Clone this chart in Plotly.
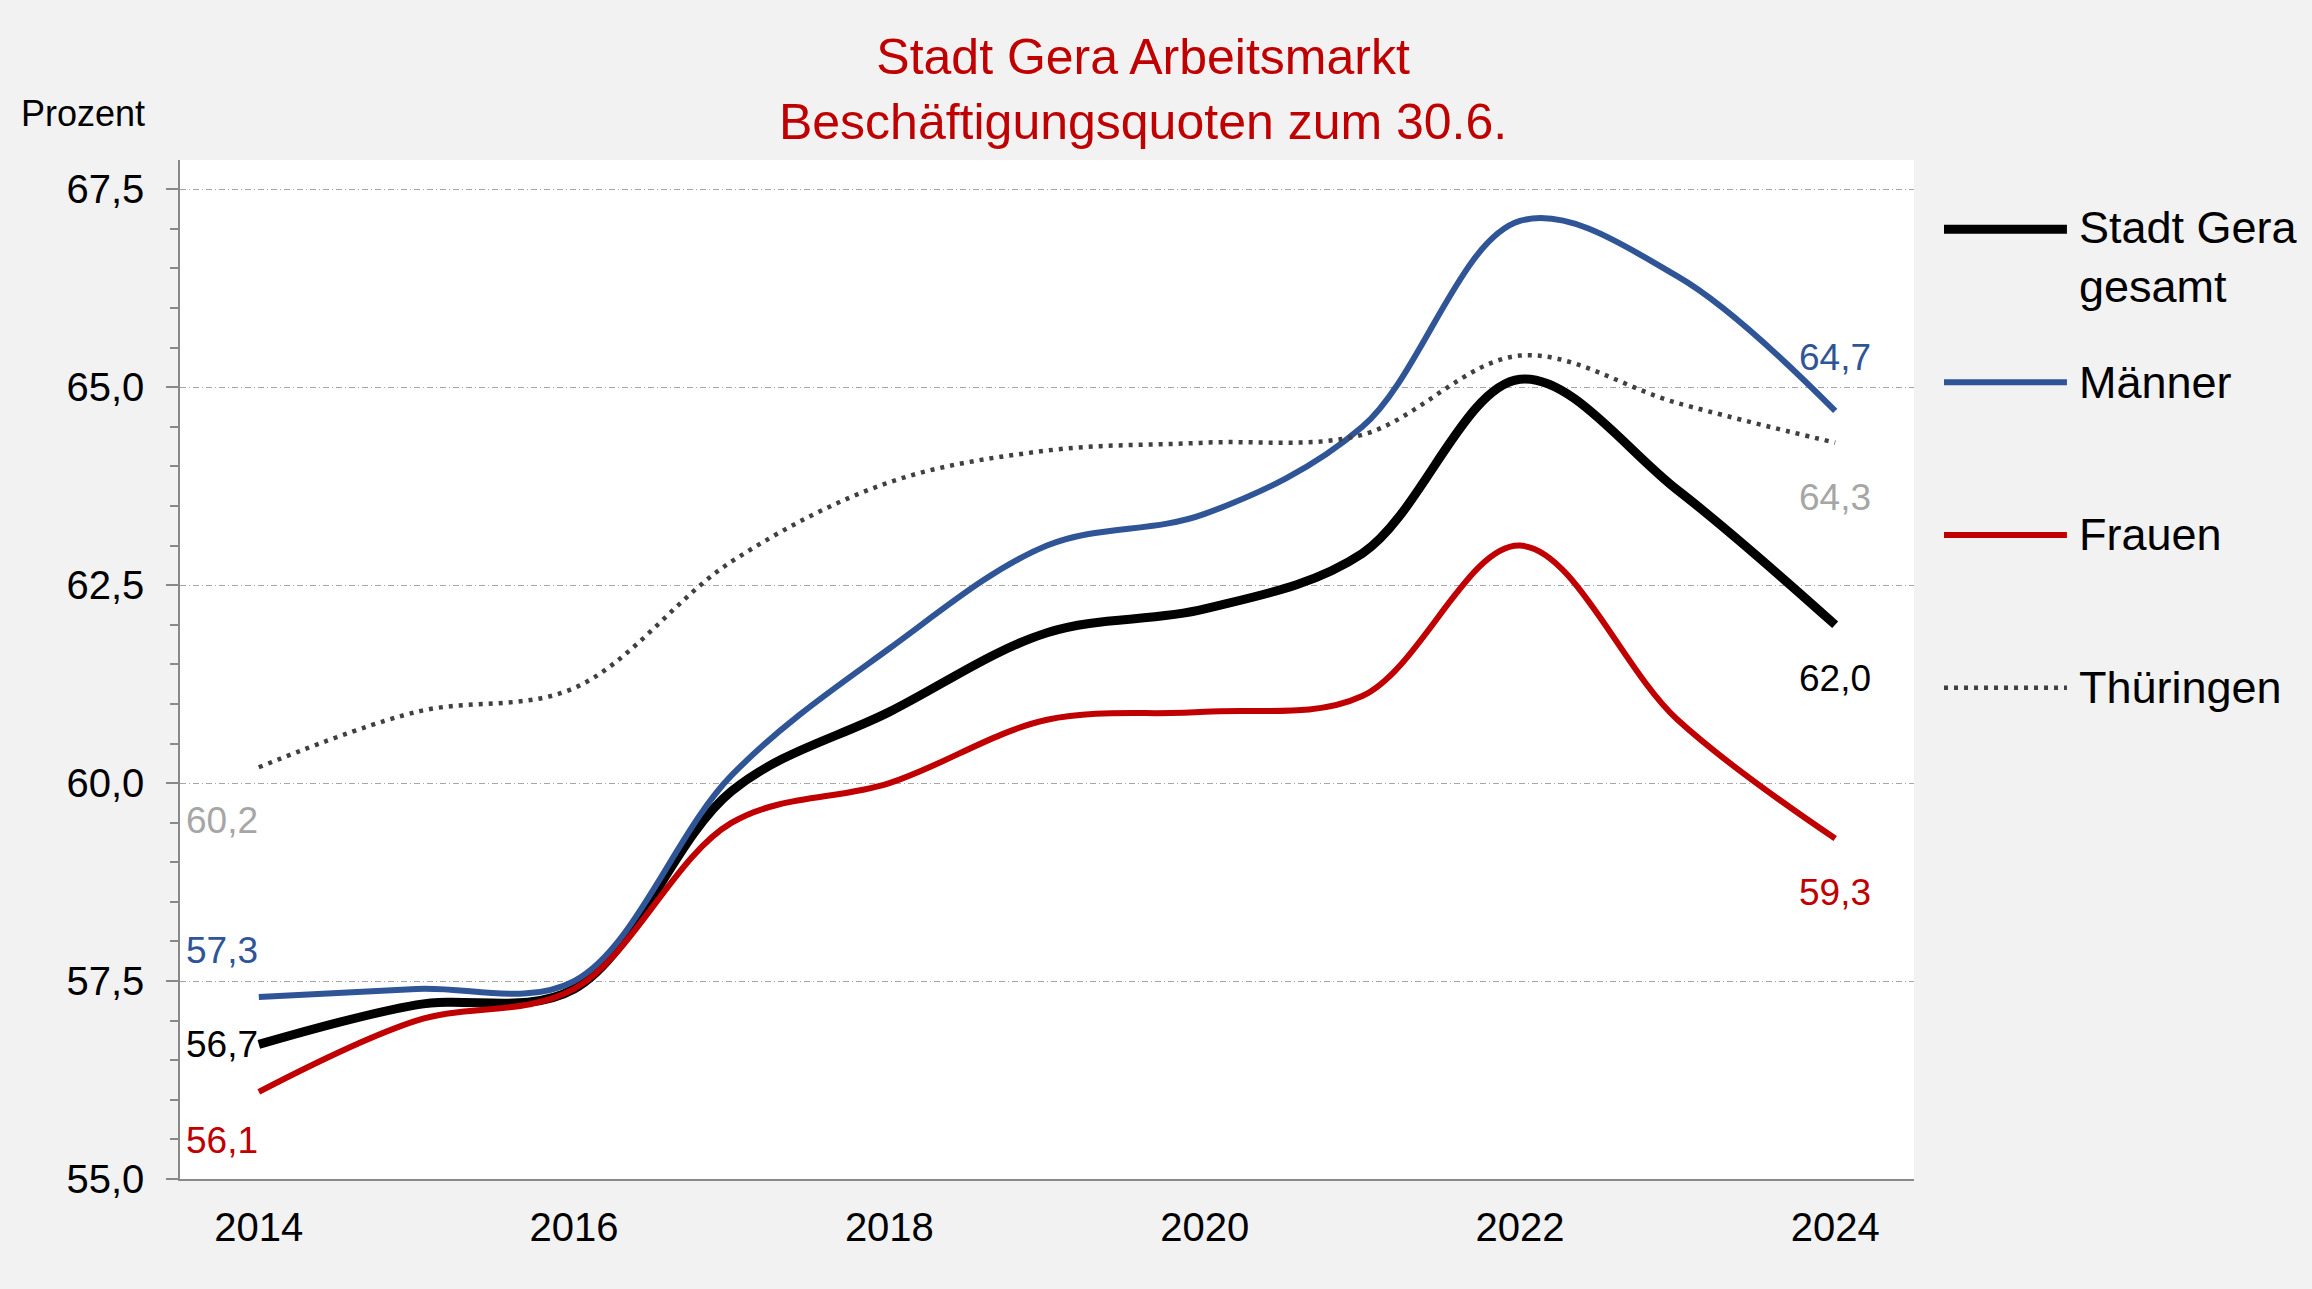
import plotly.graph_objects as go

# Beschäftigungsquoten zum 30.6. (Prozent)
years = [2014, 2015, 2016, 2017, 2018, 2019, 2020, 2021, 2022, 2023, 2024]
gera_gesamt = [56.7, 57.2, 57.4, 59.9, 60.9, 61.9, 62.2, 62.9, 65.1, 63.7, 62.0]
maenner = [57.3, 57.4, 57.5, 60.1, 61.7, 63.0, 63.4, 64.5, 67.1, 66.4, 64.7]
frauen = [56.1, 57.0, 57.4, 59.5, 60.0, 60.8, 60.9, 61.1, 63.0, 60.8, 59.3]
thueringen = [60.2, 60.9, 61.2, 62.8, 63.8, 64.2, 64.3, 64.4, 65.4, 64.8, 64.3]

names = ["Stadt Gera<br>gesamt", "Männer", "Frauen", "Thüringen"]
series = [gera_gesamt, maenner, frauen, thueringen]

FONT = "Arial, Liberation Sans, sans-serif"
line_colors = ["#000000", "#2F5597", "#C00000", "#404040"]
label_colors = ["#000000", "#2F5597", "#C00000", "#A6A6A6"]
widths = [9, 6, 6, 4.5]
dashes = ["solid", "solid", "solid", "4px,6px"]

# label offsets in px (first point, last point)
first_shift = [0, -46, 49, 53]
last_shift = [54, -53, 54, 55]


def fmt(v):
    return f"{v:.1f}".replace(".", ",")


fig = go.Figure()
for name, ys, col, w, d in zip(names, series, line_colors, widths, dashes):
    fig.add_trace(go.Scatter(
        x=years, y=ys, name=name, mode="lines",
        line=dict(color=col, width=w, dash=d, shape="spline", smoothing=1.0),
        showlegend=False,
    ))

# end labels
for ys, col, s0, s1 in zip(series, label_colors, first_shift, last_shift):
    fig.add_annotation(x=years[0], y=ys[0], text=fmt(ys[0]), showarrow=False,
                       xanchor="right", yanchor="middle", xshift=1, yshift=-s0,
                       font=dict(family=FONT, size=37, color=col))
    fig.add_annotation(x=years[-1], y=ys[-1], text=fmt(ys[-1]), showarrow=False,
                       xanchor="center", yanchor="middle", yshift=-s1,
                       font=dict(family=FONT, size=37, color=col))

# legend on the right
legend_y = [0.932, 0.782, 0.632, 0.482]
for name, col, w, d, ly in zip(names, line_colors, widths, dashes, legend_y):
    fig.add_shape(type="line", xref="paper", yref="paper",
                  x0=1.0173, x1=1.0882, y0=ly, y1=ly,
                  line=dict(color=col, width=w, dash=d))
    ty = ly - 0.027 if "<br>" in name else ly
    fig.add_annotation(xref="paper", yref="paper", x=1.094, y=ty, text=name,
                       showarrow=False, xanchor="left", yanchor="middle", align="left",
                       font=dict(family=FONT, size=45, color="#000000"))

fig.add_annotation(xref="paper", yref="paper", x=-0.0928, y=1.046, text="Prozent",
                   showarrow=False, xanchor="left", yanchor="middle",
                   font=dict(family=FONT, size=36, color="#000000"))

fig.update_layout(
    width=2312, height=1289,
    paper_bgcolor="#F2F2F2", plot_bgcolor="#FFFFFF",
    margin=dict(l=180, r=398, t=160, b=110),
    separators=",.",
    font=dict(family=FONT, color="#000000"),
    title=dict(text="Stadt Gera Arbeitsmarkt<br>Beschäftigungsquoten zum 30.6.",
               x=0.5554, xref="paper", xanchor="center",
               y=0.9425, yref="container", yanchor="top",
               font=dict(family=FONT, size=50, color="#C00000")),
    xaxis=dict(range=[2013.5, 2024.5], tick0=2014, dtick=2, showgrid=False,
               showline=True, linecolor="#898989", linewidth=1.5,
               ticks="", tickfont=dict(size=40), ticklabelstandoff=12,
               zeroline=False),
    yaxis=dict(range=[55, 67.87], tick0=55, dtick=2.5, tickformat=".1f",
               showgrid=True, gridcolor="#A6A6A6", gridwidth=1,
               griddash="6px,3px,1px,3px",
               showline=True, linecolor="#898989", linewidth=1.5,
               ticks="outside", ticklen=12, tickcolor="#898989", tickwidth=1.5,
               minor=dict(dtick=0.5, ticks="outside", ticklen=8,
                          tickcolor="#898989", tickwidth=1.5, showgrid=False),
               tickfont=dict(size=40), ticklabelstandoff=14, zeroline=False),
)

fig.write_html("out.html", config={"displayModeBar": False},
               post_script="document.body.style.margin='0';"
                           "document.body.style.background='#F2F2F2';")
